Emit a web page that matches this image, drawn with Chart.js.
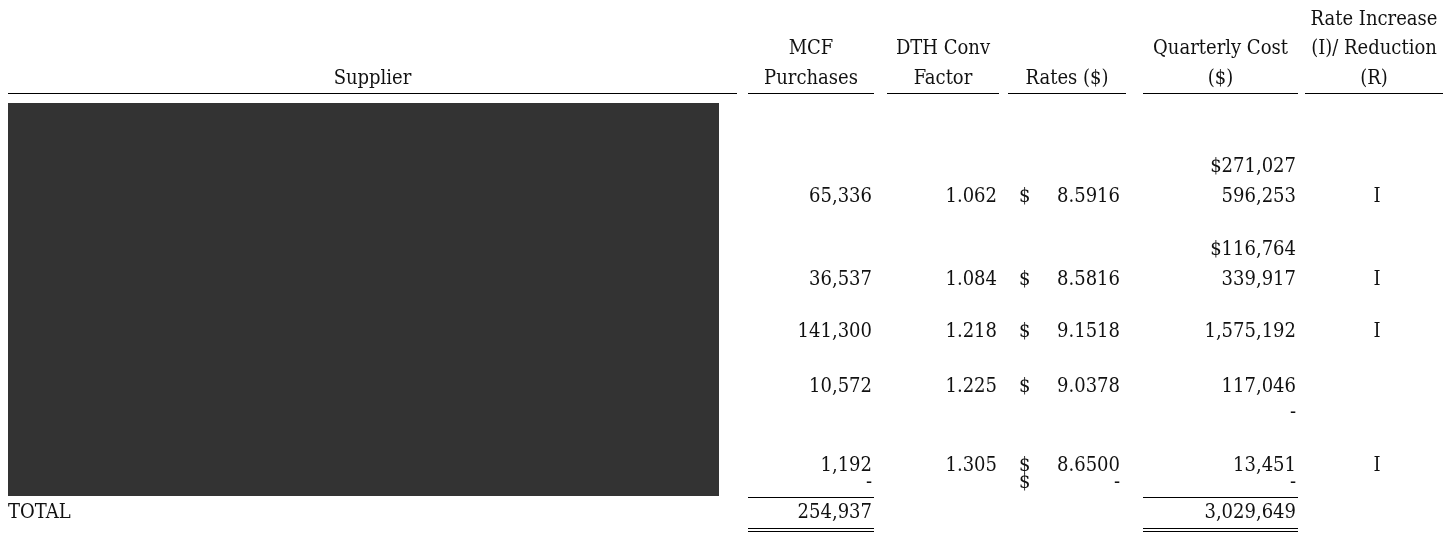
<!DOCTYPE html>
<html>
<head>
<meta charset="utf-8">
<script src="https://cdn.jsdelivr.net/npm/chart.js@4.4.1/dist/chart.umd.min.js"></script>
<style>
  html, body { margin: 0; padding: 0; background: #fff; }
  #contenedor { width: 1449px; height: 538px; }
</style>
</head>
<body>
<div id="contenedor"><canvas id="tabla" width="1449" height="538"></canvas></div>
<script>
"use strict";

// datos de la tabla (una entrada por fila)
const mcfPurchases  = [65336, 36537, 141300, 10572, null, 1192, 0];
const dthFactor     = [1.062, 1.084, 1.218, 1.225, null, 1.305, null];
const rates         = [8.5916, 8.5816, 9.1518, 9.0378, null, 8.65, 0];
const quarterlyCost = [596253, 339917, 1575192, 117046, 0, 13451, 0];
const priorCost     = [271027, 116764, null, null, null, null, null]; // montos con $ arriba de la fila
const rateChange    = ["I", "I", "I", "", "", "I", ""];
const totalLabel = "TOTAL";
const totalMcf  = 254937;
const totalCost = 3029649;

// encabezados: cada columna tiene varias lineas
const headerSupplier  = ["Supplier"];
const headerMcf       = ["MCF", "Purchases"];
const headerDth       = ["DTH Conv", "Factor"];
const headerRates     = ["Rates ($)"];
const headerCost      = ["Quarterly Cost", "($)"];
const headerChange    = ["Rate Increase", "(I)/ Reduction", "(R)"];

// layout (posiciones en unidades de las escalas, separadas de los datos)
const rowY = [197, 280, 332, 387, 413, 466, 483];
const priorOffset = 30;
const totalY = 513;
const headerLineY = [20, 49, 79];
const underlineY = 93;
const col = {
    supplier: { l: 8, r: 737 },
    mcf:      { l: 748, r: 874 },
    dth:      { l: 887, r: 999 },
    rates:    { l: 1008, r: 1126 },
    cost:     { l: 1143, r: 1298 },
    change:   { l: 1305, r: 1443 }
};
const numRight = { mcf: 872, dth: 997, dollar: 1019, rate: 1120, cost: 1296, change: 1377 };
const caja = { x0: 8, x1: 719, y0: 103, y1: 496 };

const fuente = "20px 'DejaVu Serif Condensed', 'DejaVu Serif', serif";
const colorTexto = "#111111";

function fmtEntero(v) {
    if (v === null) return "";
    if (v === 0) return "-";
    return v.toLocaleString("en-US");
}
function fmtDec(v, d) {
    if (v === null) return "";
    if (v === 0) return "-";
    return v.toFixed(d);
}

// armo los datasets: un punto invisible por celda, con el texto guardado aparte
function celdas(valores, x, fmt, align) {
    return {
        data: valores.map((v, i) => ({ x: x, y: rowY[i] })),
        textos: valores.map(fmt),
        align: align,
        pointRadius: 0,
        showLine: false
    };
}

const datasets = [
    celdas(mcfPurchases, numRight.mcf, fmtEntero, "right"),
    celdas(dthFactor, numRight.dth, v => fmtDec(v, 3), "right"),
    celdas(rates, numRight.dollar, v => (v === null ? "" : "$"), "left"),
    celdas(rates, numRight.rate, v => fmtDec(v, 4), "right"),
    celdas(quarterlyCost, numRight.cost, fmtEntero, "right"),
    celdas(rateChange, numRight.change, v => v, "center"),
    {
        data: priorCost.map((v, i) => ({ x: numRight.cost, y: rowY[i] - priorOffset })),
        textos: priorCost.map(v => (v === null ? "" : "$" + v.toLocaleString("en-US"))),
        align: "right",
        pointRadius: 0
    },
    {
        data: [{ x: col.supplier.l, y: totalY }, { x: numRight.mcf, y: totalY }, { x: numRight.cost, y: totalY }],
        textos: [totalLabel, totalMcf.toLocaleString("en-US"), totalCost.toLocaleString("en-US")],
        aligns: ["left", "right", "right"],
        pointRadius: 0
    }
];

const encabezados = [
    [headerSupplier, col.supplier],
    [headerMcf, col.mcf],
    [headerDth, col.dth],
    [headerRates, col.rates],
    [headerCost, col.cost],
    [headerChange, col.change]
];

const tablaPlugin = {
    id: "tabla",
    beforeDatasetsDraw(chart) {
        const ctx = chart.ctx;
        const x = chart.scales.x, y = chart.scales.y;
        ctx.save();
        // bloque oscuro (nombres tapados)
        ctx.fillStyle = "#333333";
        const px0 = x.getPixelForValue(caja.x0), px1 = x.getPixelForValue(caja.x1);
        const py0 = y.getPixelForValue(caja.y0), py1 = y.getPixelForValue(caja.y1);
        ctx.fillRect(px0, py0, px1 - px0, py1 - py0);

        // encabezados
        ctx.font = fuente;
        ctx.fillStyle = colorTexto;
        ctx.textBaseline = "middle";
        ctx.textAlign = "center";
        encabezados.forEach(([lineas, c]) => {
            const cx = x.getPixelForValue((c.l + c.r) / 2);
            const start = headerLineY.length - lineas.length;
            lineas.forEach((t, k) => ctx.fillText(t, cx, y.getPixelForValue(headerLineY[start + k])));
        });

        // lineas
        ctx.strokeStyle = "#000";
        ctx.lineWidth = 1.2;
        const linea = (a, b, yy) => {
            const py = Math.round(y.getPixelForValue(yy)) + 0.5;
            ctx.beginPath();
            ctx.moveTo(x.getPixelForValue(a), py);
            ctx.lineTo(x.getPixelForValue(b), py);
            ctx.stroke();
        };
        Object.values(col).forEach(c => linea(c.l, c.r, underlineY));
        linea(col.mcf.l, col.mcf.r, 497);
        linea(col.cost.l, col.cost.r, 497);
        [528, 531].forEach(yy => {
            linea(col.mcf.l, col.mcf.r, yy);
            linea(col.cost.l, col.cost.r, yy);
        });
        ctx.restore();
    },
    afterDatasetsDraw(chart) {
        const ctx = chart.ctx;
        ctx.save();
        ctx.font = fuente;
        ctx.fillStyle = colorTexto;
        ctx.textBaseline = "middle";
        chart.data.datasets.forEach((ds, i) => {
            const meta = chart.getDatasetMeta(i);
            meta.data.forEach((pt, j) => {
                const t = ds.textos[j];
                if (!t) return;
                ctx.textAlign = ds.aligns ? ds.aligns[j] : ds.align;
                ctx.fillText(t, pt.x, pt.y);
            });
        });
        ctx.restore();
    }
};

new Chart(document.getElementById("tabla").getContext("2d"), {
    type: "scatter",
    data: { datasets: datasets },
    options: {
        responsive: false,
        animation: false,
        events: [],
        layout: { padding: 0 },
        plugins: { legend: { display: false }, tooltip: { enabled: false } },
        scales: {
            x: { type: "linear", min: 0, max: 1449, display: false },
            y: { type: "linear", min: 0, max: 538, reverse: true, display: false }
        }
    },
    plugins: [tablaPlugin]
});
</script>
</body>
</html>
